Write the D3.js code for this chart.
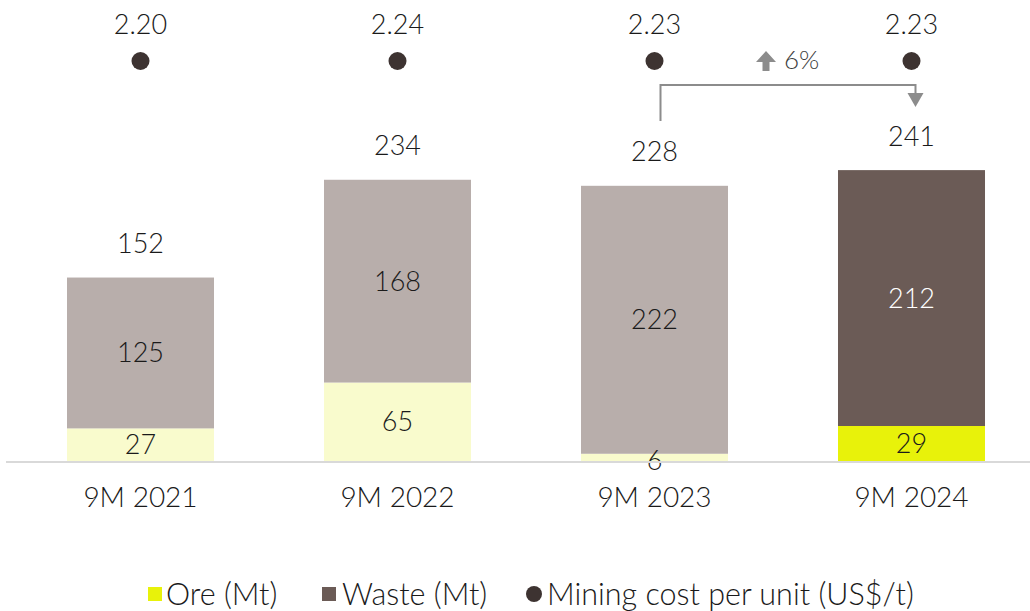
<!DOCTYPE html>
<html>
<head>
<meta charset="utf-8">
<script src="https://cdn.jsdelivr.net/npm/d3@7"></script>
<style>
  body { margin: 0; background: #fff; }
  text { font-family: Lato, "Open Sans", sans-serif; font-weight: 300; fill: #1a1a1a; }
</style>
</head>
<body>
<svg id="chart" width="1030" height="611"></svg>
<script>
// data
var categories = ["9M 2021", "9M 2022", "9M 2023", "9M 2024"];
var ore = [27, 65, 6, 29];
var waste = [125, 168, 222, 212];
var totals = [152, 234, 228, 241];
var unitCost = [2.20, 2.24, 2.23, 2.23];
var changeLabel = "6%";

var svg = d3.select("#chart");

var x = d3.scaleBand()
    .domain(categories)
    .range([12, 1040])
    .paddingInner(0.428)
    .paddingOuter(0.214);

var y = d3.scaleLinear()
    .domain([0, 250])
    .range([461, 159.25]);

var oreColor = ["#f9fbcd", "#f9fbcd", "#f9fbcd", "#e8f20a"];
var wasteColor = ["#b8aeab", "#b8aeab", "#b8aeab", "#6b5b56"];
var wasteText = ["#1a1a1a", "#1a1a1a", "#1a1a1a", "#ffffff"];

var rows = categories.map(function(c, i) {
    return { cat: c, i: i, ore: ore[i], waste: waste[i], total: totals[i], cost: unitCost[i] };
});

// bars
var g = svg.selectAll("g.bar").data(rows).enter().append("g").attr("class", "bar");

g.append("rect")
    .attr("x", function(d) { return x(d.cat); })
    .attr("width", x.bandwidth())
    .attr("y", function(d) { return y(d.ore); })
    .attr("height", function(d) { return y(0) - y(d.ore); })
    .attr("fill", function(d) { return oreColor[d.i]; });

g.append("rect")
    .attr("x", function(d) { return x(d.cat); })
    .attr("width", x.bandwidth())
    .attr("y", function(d) { return y(d.ore + d.waste); })
    .attr("height", function(d) { return y(d.ore) - y(d.ore + d.waste); })
    .attr("fill", function(d) { return wasteColor[d.i]; });

// axis line
svg.append("line")
    .attr("x1", 6).attr("x2", 1030)
    .attr("y1", y(0) + 1).attr("y2", y(0) + 1)
    .attr("stroke", "#d9d9d9").attr("stroke-width", 2);

var cx = function(d) { return x(d.cat) + x.bandwidth() / 2; };

// segment labels
g.append("text")
    .attr("x", cx)
    .attr("y", function(d) {
        var h = y(0) - y(d.ore);
        return h < 20 ? y(0) : (y(0) + y(d.ore)) / 2;
    })
    .attr("dy", "0.35em")
    .attr("text-anchor", "middle")
    .style("font-size", "27px")
    .text(function(d) { return d.ore; });

g.append("text")
    .attr("x", cx)
    .attr("y", function(d) { return (y(d.ore) + y(d.ore + d.waste)) / 2; })
    .attr("dy", "0.35em")
    .attr("text-anchor", "middle")
    .style("font-size", "27px")
    .style("fill", function(d) { return wasteText[d.i]; })
    .text(function(d) { return d.waste; });

// totals
g.append("text")
    .attr("x", cx)
    .attr("y", function(d) { return y(d.ore + d.waste) - 34; })
    .attr("dy", "0.35em")
    .attr("text-anchor", "middle")
    .style("font-size", "27px")
    .text(function(d) { return d.total; });

// unit cost dots
g.append("circle")
    .attr("cx", cx).attr("cy", 61).attr("r", 9)
    .attr("fill", "#3d3331");

g.append("text")
    .attr("x", cx)
    .attr("y", 25)
    .attr("dy", "0.35em")
    .attr("text-anchor", "middle")
    .style("font-size", "27px")
    .text(function(d) { return d3.format(".2f")(d.cost); });

// category labels
g.append("text")
    .attr("x", cx)
    .attr("y", 497)
    .attr("dy", "0.35em")
    .attr("text-anchor", "middle")
    .style("font-size", "28px")
    .text(function(d) { return d.cat; });

// change annotation
var x3 = x(categories[2]) + x.bandwidth() / 2 + 6;
var x4 = x(categories[3]) + x.bandwidth() / 2 + 4;
svg.append("path")
    .attr("d", "M" + x3 + "," + 121 + "V85H" + x4 + "V95")
    .attr("fill", "none").attr("stroke", "#8c8c8c").attr("stroke-width", 2);
svg.append("path")
    .attr("d", "M" + (x4 - 8) + ",93L" + (x4 + 8) + ",93L" + x4 + ",107Z")
    .attr("fill", "#8c8c8c");

var ax = (x3 + x4) / 2 - 22;
svg.append("path")
    .attr("d", "M" + ax + ",51L" + (ax + 10) + ",62H" + (ax + 3.5) + "V71H" + (ax - 3.5) + "V62H" + (ax - 10) + "Z")
    .attr("fill", "#8c8c8c");
svg.append("text")
    .attr("x", ax + 18).attr("y", 60)
    .attr("dy", "0.35em")
    .style("font-size", "26px")
    .style("fill", "#3d3d3d")
    .text(changeLabel);

// legend
var legend = svg.append("g").attr("transform", "translate(0,594)");
legend.append("rect").attr("x", 148).attr("y", -7).attr("width", 14).attr("height", 14).attr("fill", "#e8f20a");
legend.append("text").attr("x", 166).attr("dy", "0.35em").style("font-size", "30.5px").text("Ore (Mt)");
legend.append("rect").attr("x", 322).attr("y", -7).attr("width", 14).attr("height", 14).attr("fill", "#6b5b56");
legend.append("text").attr("x", 342).attr("dy", "0.35em").style("font-size", "30.5px").text("Waste (Mt)");
legend.append("circle").attr("cx", 534).attr("cy", 0).attr("r", 8).attr("fill", "#3d3331");
legend.append("text").attr("x", 547).attr("dy", "0.35em").style("font-size", "30.5px").text("Mining cost per unit (US$/t)");
</script>
</body>
</html>
